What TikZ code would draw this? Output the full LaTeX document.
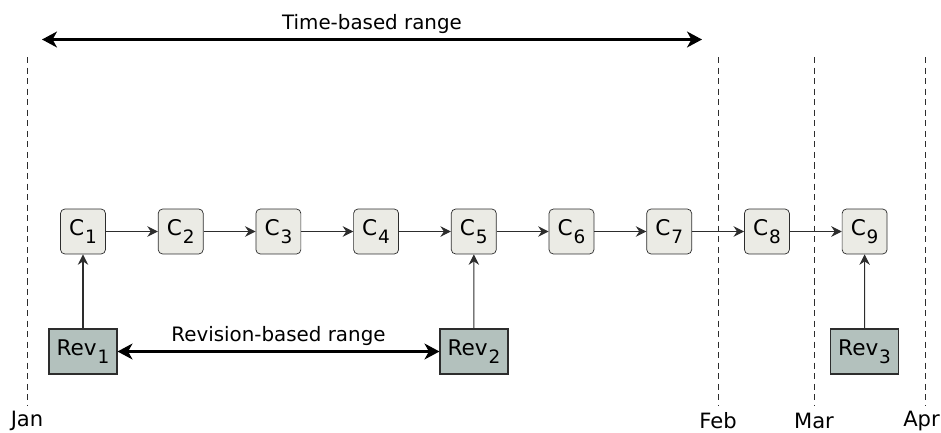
\documentclass[tikz,border=0pt]{standalone}
\usepackage{fontspec}
\setmainfont{DejaVu Sans}
\usepackage{xcolor}
\usetikzlibrary{arrows.meta}

\definecolor{commitfill}{RGB}{235,235,229}
\definecolor{revfill}{RGB}{179,193,189}
\definecolor{edgegray}{RGB}{45,45,45}

\newcommand{\lowidx}[1]{\kern0.5pt\raisebox{-4.6pt}{\fontsize{10.5}{12}\selectfont #1}}

\tikzset{
  commit/.style={draw=edgegray, fill=commitfill, rounded corners=2.5pt,
    minimum width=0.9cm, minimum height=0.9cm, inner sep=0pt,
    font=\fontsize{12.3}{14}\selectfont},
  revbox/.style={draw=edgegray, fill=revfill, line width=0.6pt,
    minimum width=1.36cm, minimum height=0.9cm, inner sep=0pt,
    font=\fontsize{12.3}{14}\selectfont},
  link/.style={-{Stealth[length=6pt,width=6pt,inset=2pt]}, line width=0.6pt, draw=edgegray},
  span/.style={{Stealth[length=8.5pt,width=9pt,inset=2.5pt]}-{Stealth[length=8.5pt,width=9pt,inset=2.5pt]},
    line width=1.7pt},
  monthline/.style={line width=0.5pt, draw=edgegray, dash pattern=on 3.5pt off 2.5pt},
  monthlabel/.style={font=\fontsize{12}{14}\selectfont},
  spanlabel/.style={font=\fontsize{11.3}{13}\selectfont, inner sep=2.5pt}
}

\begin{document}
\begin{tikzpicture}[x=0.02cm, y=-0.02cm]
    \useasboundingbox (0,0) rectangle (941,433);

    % months
    \coordinate (jantop) at (27,57);   \coordinate (janbot) at (27,405);
    \coordinate (febtop) at (718,57);  \coordinate (febbot) at (718,405);
    \coordinate (martop) at (814,57);  \coordinate (marbot) at (814,405);
    \coordinate (aprtop) at (925,57);  \coordinate (aprbot) at (925,405);
    \draw[monthline] (jantop) -- (janbot);
    \draw[monthline] (febtop) -- (febbot);
    \draw[monthline] (martop) -- (marbot);
    \draw[monthline] (aprtop) -- (aprbot);
    \node[monthlabel] (jan) at (27,421) {Jan};
    \node[monthlabel] (feb) at (718,421) {Feb};
    \node[monthlabel] (mar) at (814,421) {Mar};
    \node[monthlabel, anchor=east, inner sep=0.5pt] (apr) at (941,421) {Apr};

    % commits
    \foreach \i in {1,...,9}
        \node[commit] (c\i) at ({83+97.7*(\i-1)},231.5) {C\lowidx{\i}};
    \foreach \i [evaluate=\i as \j using int(\i+1)] in {1,...,8}
        \draw[link] (c\i) -- (c\j);

    % revisions
    \node[revbox] (rev1) at (83,351.5) {Rev\lowidx{1}};
    \node[revbox] (rev2) at (474,351.5) {Rev\lowidx{2}};
    \node[revbox] (rev3) at (864.6,351.5) {Rev\lowidx{3}};
    \draw[link] (rev1) -- (c1);
    \draw[link] (rev2) -- (c5);
    \draw[link] (rev3) -- (c9);

    % ranges
    \coordinate (timestart) at (42,39.5);
    \coordinate (timeend) at (702,39.5);
    \draw[span] (timestart) -- (timeend)
        node[spanlabel, midway, above] (timelabel) {Time-based range};
    \draw[span] (rev1) -- (rev2)
        node[spanlabel, midway, above] (revlabel) {Revision-based range};
\end{tikzpicture}
\end{document}
